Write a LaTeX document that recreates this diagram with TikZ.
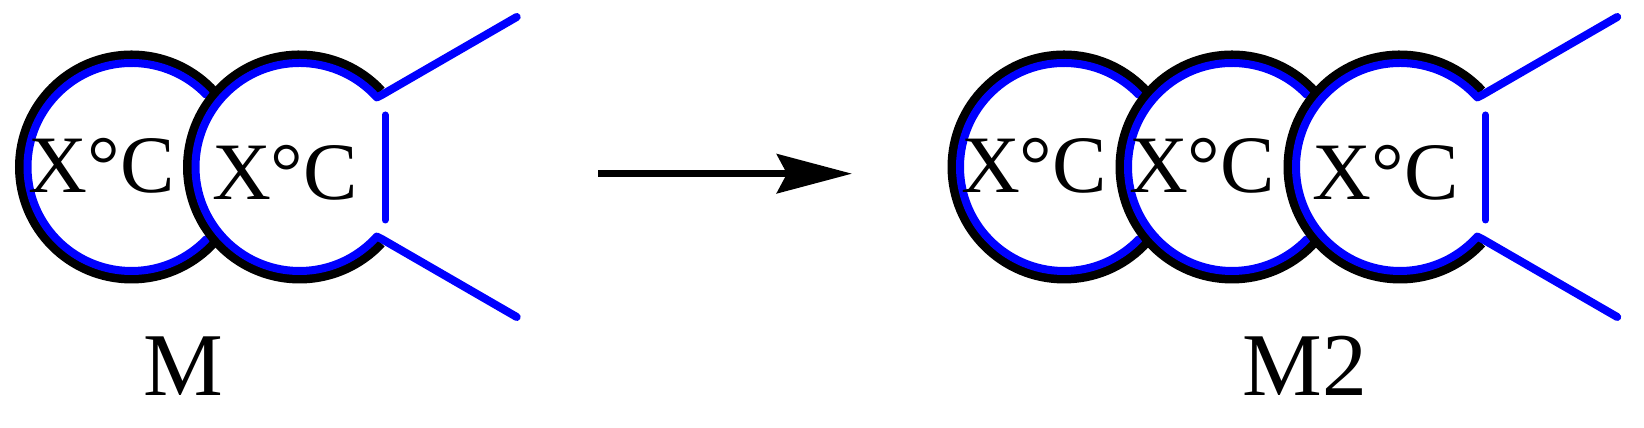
\documentclass[tikz,border=0pt]{standalone}
\usepackage{fontspec}
\setmainfont{Liberation Serif}
\usepackage{tikz}
\usetikzlibrary{arrows.meta,positioning,calc}
\definecolor{ringblue}{RGB}{0,0,255}
\newcommand{\unitfont}{\fontsize{23.2pt}{28pt}\selectfont}
\newcommand{\namefont}{\fontsize{25.5pt}{30pt}\selectfont}
\tikzset{
  ringedge/.style={draw=black, line width=0.9mm},
  ringinner/.style={draw=ringblue, line width=0.8mm, line cap=round},
  bond/.style={draw=ringblue, line width=0.8mm, line cap=round, line join=round},
  stub/.style={bond, line width=0.7mm},
  unitlbl/.style={font=\unitfont, inner sep=0pt, anchor=base},
  namelbl/.style={font=\namefont, inner sep=0pt, anchor=base},
  reaction/.style={-{Stealth[length=7.5mm, width=3.9mm, inset=1mm]}, draw=black, line width=0.73mm}
}

\begin{document}
\begin{tikzpicture}[x=0.1mm, y=0.1mm]
  \useasboundingbox (0,0) rectangle (1644,428);

  \newcommand{\ringunit}[2]{%
    \fill[white] (#1,261) circle[radius=112];
    \draw[ringedge] (#1,261) circle[radius=112];
    \draw[ringinner] ([shift={(44:104)}]#1,261) arc[start angle=44, end angle=316, radius=104];
    \node[unitlbl] (#2) at (#1-30,235.3) {X°C};}

  \newcommand{\ringlast}[2]{%
    \fill[white] (#1,261) circle[radius=112];
    \draw[ringedge] ([shift={(43:112)}]#1,261) arc[start angle=43, end angle=317, radius=112];
    \coordinate (#2up) at (#1+82.2,333);
    \coordinate (#2dn) at (#1+82.2,189);
    \coordinate (#2tipup) at (#1+217.2,411);
    \coordinate (#2tipdn) at (#1+217.2,111);
    \coordinate (#2stuba) at (#1+85.5,313);
    \coordinate (#2stubb) at (#1+85.5,208);
    \draw[bond] (#2tipup) -- (#2up) -- ([shift={(42:104)}]#1,261)
      arc[start angle=42, end angle=318, radius=104] -- (#2dn) -- (#2tipdn);
    \draw[stub] (#2stuba) -- (#2stubb);
    \node[unitlbl] (#2) at (#1-14.5,228.7) {X°C};}

  \ringunit{131.5}{mA}
  \ringlast{299.5}{mB}
  \node[namelbl] (lblM) at (183.7,32) {M};

  \coordinate (rxnstart) at (598,254.3);
  \coordinate (rxnend) at (852,254.3);
  \draw[reaction] (rxnstart) -- (rxnend);

  \ringunit{1064}{mmA}
  \ringunit{1232}{mmB}
  \ringlast{1400}{mmC}
  \node[namelbl] (lblMM) at (1305,32) {M2};
\end{tikzpicture}
\end{document}
